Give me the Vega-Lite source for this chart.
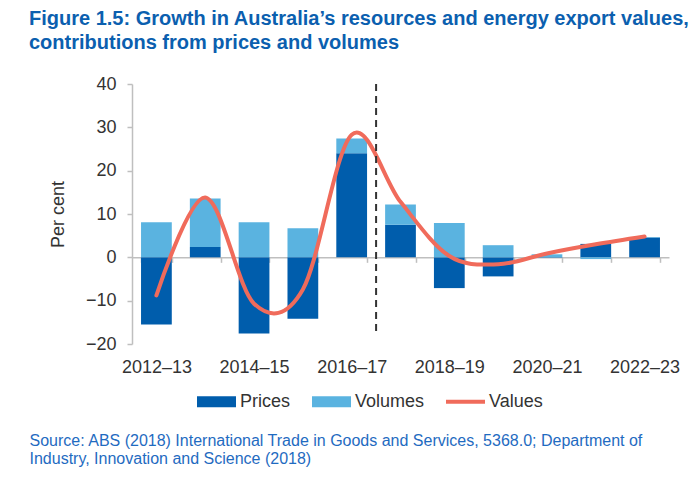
{
  "$schema": "https://vega.github.io/schema/vega-lite/v6.json",
  "width": 537,
  "height": 260,
  "autosize": {"type": "none"},
  "padding": {"left": 132, "top": 84, "right": 26, "bottom": 140},
  "background": "white",
  "config": {"font": "Liberation Sans", "view": {"stroke": null}},
  "title": {
    "text": ["Figure 1.5: Growth in Australia’s resources and energy export values,", "contributions from prices and volumes"],
    "anchor": "start",
    "frame": "group",
    "dx": -103,
    "offset": 22,
    "fontSize": 20,
    "fontWeight": "bold",
    "color": "#0B5FAF",
    "lineHeight": 24,
    "font": "Liberation Sans"
  },
  "datasets": {
    "bars": [
      {"year": "2012–13", "series": "Prices", "value": -15.5},
      {"year": "2012–13", "series": "Volumes", "value": 8.1},
      {"year": "2013–14", "series": "Prices", "value": 2.4},
      {"year": "2013–14", "series": "Volumes", "value": 11.2},
      {"year": "2014–15", "series": "Prices", "value": -17.6},
      {"year": "2014–15", "series": "Volumes", "value": 8.1},
      {"year": "2015–16", "series": "Prices", "value": -14.2},
      {"year": "2015–16", "series": "Volumes", "value": 6.7},
      {"year": "2016–17", "series": "Prices", "value": 24.0},
      {"year": "2016–17", "series": "Volumes", "value": 3.4},
      {"year": "2017–18", "series": "Prices", "value": 7.5},
      {"year": "2017–18", "series": "Volumes", "value": 4.7},
      {"year": "2018–19", "series": "Prices", "value": -7.1},
      {"year": "2018–19", "series": "Volumes", "value": 7.9},
      {"year": "2019–20", "series": "Prices", "value": -4.4},
      {"year": "2019–20", "series": "Volumes", "value": 2.8},
      {"year": "2020–21", "series": "Prices", "value": -0.1},
      {"year": "2020–21", "series": "Volumes", "value": 0.7},
      {"year": "2021–22", "series": "Prices", "value": 3.1},
      {"year": "2021–22", "series": "Volumes", "value": -0.4},
      {"year": "2022–23", "series": "Prices", "value": 4.6},
      {"year": "2022–23", "series": "Volumes", "value": 0.1}
    ],
    "line": [
      {"year": "2012–13", "series": "Values", "value": -8.8},
      {"year": "2013–14", "series": "Values", "value": 13.8},
      {"year": "2014–15", "series": "Values", "value": -10.7},
      {"year": "2015–16", "series": "Values", "value": -7.4},
      {"year": "2016–17", "series": "Values", "value": 28.3},
      {"year": "2017–18", "series": "Values", "value": 12.8},
      {"year": "2018–19", "series": "Values", "value": 0.3},
      {"year": "2019–20", "series": "Values", "value": -1.6},
      {"year": "2020–21", "series": "Values", "value": 0.9},
      {"year": "2021–22", "series": "Values", "value": 3.0},
      {"year": "2022–23", "series": "Values", "value": 4.8}
    ],
    "divider": [
      {"year": "2016–17", "top": 40, "bottom": -17}
    ]
  },
  "encoding": {
    "x": {
      "field": "year",
      "type": "nominal",
      "scale": {
        "type": "band",
        "domain": ["2012–13", "2013–14", "2014–15", "2015–16", "2016–17", "2017–18", "2018–19", "2019–20", "2020–21", "2021–22", "2022–23"],
        "paddingInner": 0.37,
        "paddingOuter": 0.185
      },
      "axis": {
        "title": ["Source: ABS (2018) International Trade in Goods and Services, 5368.0; Department of", "Industry, Innovation and Science (2018)"],
        "orient": "bottom",
        "offset": -86.67,
        "domainColor": "#BFBFBF",
        "domainWidth": 1.5,
        "tickColor": "#BFBFBF",
        "tickWidth": 1.5,
        "tickSize": 5,
        "tickBand": "extent",
        "labelPadding": 96,
        "labelAngle": 0,
        "labelFontSize": 18,
        "labelColor": "#333333",
        "labelOverlap": false,
        "labelExpr": "indexof(['2012–13','2014–15','2016–17','2018–19','2020–21','2022–23'], datum.value) >= 0 ? datum.label : ''",
        "titleX": -103,
        "titleY": 188,
        "titleAlign": "left",
        "titleAnchor": "start",
        "titleBaseline": "alphabetic",
        "titleFontSize": 16,
        "titleFontWeight": "normal",
        "titleColor": "#1F6BC1",
        "titleLineHeight": 18
      }
    }
  },
  "layer": [
    {
      "data": {"name": "bars"},
      "mark": {"type": "bar"},
      "encoding": {
        "y": {
          "field": "value",
          "type": "quantitative",
          "stack": "zero",
          "scale": {"domain": [-20, 40], "nice": false, "zero": false},
          "axis": {
            "title": "Per cent",
            "values": [-20, -10, 0, 10, 20, 30, 40],
            "grid": false,
            "domainColor": "#BFBFBF",
            "domainWidth": 1.5,
            "tickColor": "#BFBFBF",
            "tickWidth": 1.5,
            "tickSize": 5,
            "labelPadding": 11,
            "labelFontSize": 18,
            "labelColor": "#333333",
            "titleFontSize": 18,
            "titleFontWeight": "normal",
            "titleColor": "#333333",
            "titlePadding": 18
          }
        },
        "color": {
          "field": "series",
          "type": "nominal",
          "scale": {"domain": ["Prices", "Volumes", "Values"], "range": ["#005DAC", "#5AB3E0", "#F06B5B"]},
          "legend": {
            "title": null,
            "orient": "none",
            "legendX": 65,
            "legendY": 298,
            "direction": "horizontal",
            "symbolSize": 1521,
            "symbolStrokeWidth": 0,
            "labelFontSize": 18,
            "labelColor": "#333333",
            "labelOffset": 4,
            "columnPadding": 21,
            "encode": {
              "symbols": {
                "update": {
                  "shape": {"signal": "datum.value === 'Values' ? 'M-1,-0.1H1V0.1H-1Z' : 'M-1,-0.28H1V0.28H-1Z'"},
                  "fill": {"scale": "color", "field": "value"},
                  "strokeWidth": {"value": 0},
                  "opacity": {"value": 1}
                }
              }
            }
          }
        },
        "order": {"field": "series", "sort": "ascending"}
      }
    },
    {
      "data": {"name": "line"},
      "mark": {"type": "line", "interpolate": "cardinal", "tension": 0, "strokeWidth": 4, "strokeCap": "round"},
      "encoding": {
        "y": {"field": "value", "type": "quantitative"},
        "color": {"field": "series", "type": "nominal"}
      }
    },
    {
      "data": {"name": "divider"},
      "mark": {"type": "rule", "color": "#333333", "strokeWidth": 2, "strokeDash": [7, 5]},
      "encoding": {
        "x": {"field": "year", "type": "nominal", "bandPosition": 1.2937},
        "y": {"field": "top", "type": "quantitative"},
        "y2": {"field": "bottom"}
      }
    }
  ]
}
